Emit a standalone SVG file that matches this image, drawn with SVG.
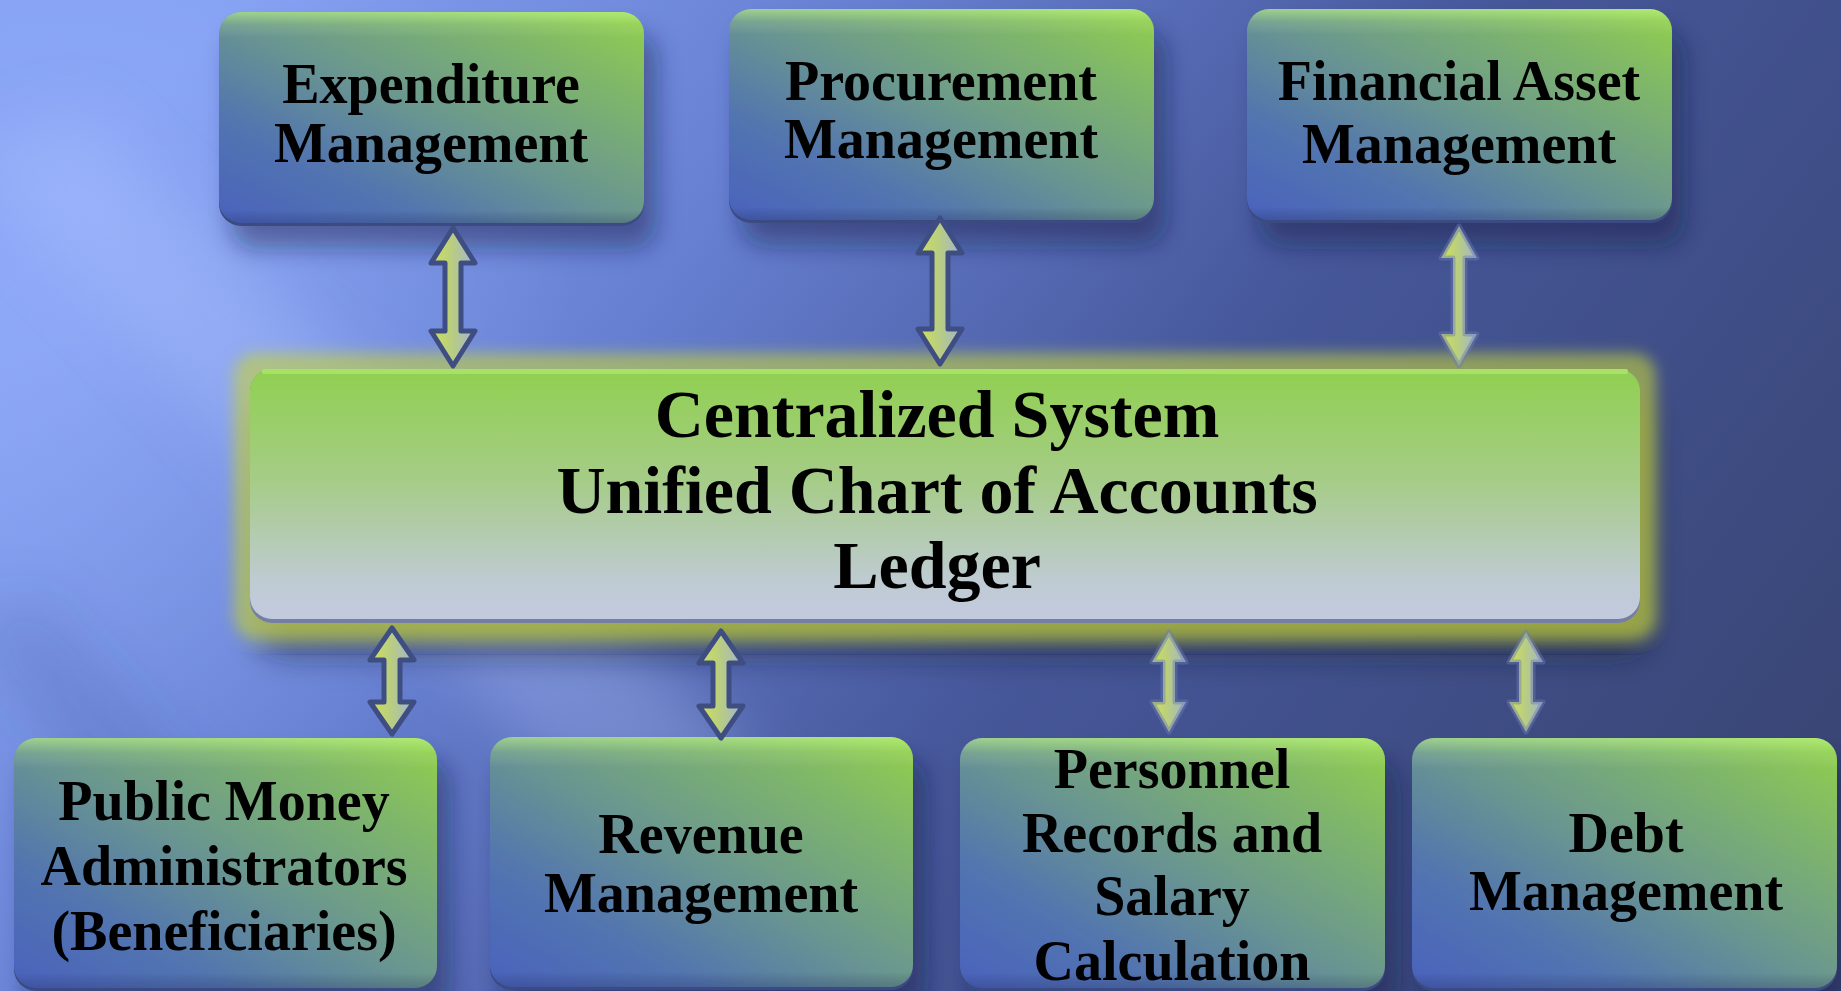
<svg xmlns="http://www.w3.org/2000/svg" width="1841" height="991" viewBox="0 0 1841 991">
  <defs>
    <linearGradient id="bgGrad" x1="0" y1="0.3" x2="1" y2="0.7">
      <stop offset="0" stop-color="#84a0f2"/>
      <stop offset="0.3" stop-color="#6780d2"/>
      <stop offset="0.6" stop-color="#46579a"/>
      <stop offset="1" stop-color="#394676"/>
    </linearGradient>
    <radialGradient id="bgGlow" cx="60" cy="330" r="520" gradientUnits="userSpaceOnUse">
      <stop offset="0" stop-color="#9ab4ff" stop-opacity="0.5"/>
      <stop offset="1" stop-color="#9ab4ff" stop-opacity="0"/>
    </radialGradient>
    <linearGradient id="boxGrad" x1="0" y1="1" x2="1" y2="0">
      <stop offset="0" stop-color="#4a62bd"/>
      <stop offset="0.25" stop-color="#5274b0"/>
      <stop offset="0.5" stop-color="#6a9690"/>
      <stop offset="0.8" stop-color="#80b868"/>
      <stop offset="1" stop-color="#92d04c"/>
    </linearGradient>
    <linearGradient id="bevelTop" x1="0" y1="0" x2="0" y2="1">
      <stop offset="0" stop-color="#c8ff90" stop-opacity="0.55"/>
      <stop offset="0.06" stop-color="#c8ff90" stop-opacity="0.15"/>
      <stop offset="0.12" stop-color="#ffffff" stop-opacity="0"/>
      <stop offset="0.94" stop-color="#000000" stop-opacity="0"/>
      <stop offset="1" stop-color="#101840" stop-opacity="0.2"/>
    </linearGradient>
    <linearGradient id="centerGrad" x1="0" y1="0" x2="0" y2="1">
      <stop offset="0" stop-color="#90d050"/>
      <stop offset="0.45" stop-color="#a6cc88"/>
      <stop offset="0.85" stop-color="#bfcbd2"/>
      <stop offset="1" stop-color="#c3cadf"/>
    </linearGradient>
    <linearGradient id="arrowGrad" x1="0" y1="0" x2="1" y2="0">
      <stop offset="0" stop-color="#cfe256"/>
      <stop offset="0.5" stop-color="#b8cc84"/>
      <stop offset="1" stop-color="#a2b4d0"/>
    </linearGradient>
    <filter id="shadow" x="-20%" y="-20%" width="150%" height="160%">
      <feGaussianBlur in="SourceAlpha" stdDeviation="12"/>
      <feOffset dx="12" dy="22" result="b"/>
      <feFlood flood-color="#141c44" flood-opacity="0.45"/>
      <feComposite in2="b" operator="in" result="s"/>
      <feMerge><feMergeNode in="s"/><feMergeNode in="SourceGraphic"/></feMerge>
    </filter>
    <filter id="glow" x="-10%" y="-30%" width="120%" height="170%">
      <feGaussianBlur in="SourceAlpha" stdDeviation="16"/>
      <feOffset dx="8" dy="30" result="d"/>
      <feFlood flood-color="#1a2030" flood-opacity="0.6"/>
      <feComposite in2="d" operator="in" result="ds"/>
      <feMorphology in="SourceAlpha" operator="dilate" radius="16" result="m"/>
      <feGaussianBlur in="m" stdDeviation="7" result="mb"/>
      <feFlood flood-color="#c4d23c" flood-opacity="0.6"/>
      <feComposite in2="mb" operator="in" result="g"/>
      <feMerge><feMergeNode in="ds"/><feMergeNode in="g"/><feMergeNode in="SourceGraphic"/></feMerge>
    </filter>
    <filter id="soft" x="-50%" y="-50%" width="200%" height="200%">
      <feGaussianBlur stdDeviation="30"/>
    </filter>
  </defs>
  <style>
    .box { fill: url(#boxGrad); }
    .bevel { fill: url(#bevelTop); }
    .edge { fill: #3a4b82; }
    .lbl { font-family: "Liberation Serif", "Times New Roman", serif; font-weight: bold; font-size: 56px; fill: #000; text-anchor: middle; }
    .big { font-size: 68px; }
    .arrow { fill: url(#arrowGrad); stroke-linejoin: round; }
    .dark { stroke: #3e4e82; stroke-width: 5; }
    .faint { stroke: #6a7ab4; stroke-opacity: 0.45; stroke-width: 5; }
  </style>

  <!-- backdrop -->
  <rect width="1841" height="991" fill="url(#bgGrad)"/>
  <rect width="1841" height="991" fill="url(#bgGlow)"/>
  <g filter="url(#soft)">
    <polygon points="-40,160 80,110 760,760 620,840" fill="#b4c8ff" opacity="0.3"/>
    <polygon points="-40,620 40,600 380,990 260,1010" fill="#3c4c98" opacity="0.2"/>
  </g>

  <!-- top row -->
  <g id="expenditure" filter="url(#shadow)">
    <rect class="edge" x="219" y="15" width="425" height="211" rx="22"/>
    <rect class="box" x="219" y="12" width="425" height="211" rx="22"/>
    <rect class="bevel" x="219" y="12" width="425" height="211" rx="22"/>
    <text class="lbl" x="431" y="103">Expenditure</text>
    <text class="lbl" x="431" y="162">Management</text>
  </g>
  <g id="procurement" filter="url(#shadow)">
    <rect class="edge" x="729" y="12" width="425" height="211" rx="22"/>
    <rect class="box" x="729" y="9" width="425" height="211" rx="22"/>
    <rect class="bevel" x="729" y="9" width="425" height="211" rx="22"/>
    <text class="lbl" x="941" y="100">Procurement</text>
    <text class="lbl" x="941" y="158">Management</text>
  </g>
  <g id="financial-asset" filter="url(#shadow)">
    <rect class="edge" x="1247" y="12" width="425" height="211" rx="22"/>
    <rect class="box" x="1247" y="9" width="425" height="211" rx="22"/>
    <rect class="bevel" x="1247" y="9" width="425" height="211" rx="22"/>
    <text class="lbl" x="1459" y="100">Financial Asset</text>
    <text class="lbl" x="1459" y="163">Management</text>
  </g>

  <!-- central ledger -->
  <g id="central-system">
    <g filter="url(#glow)">
      <rect x="250" y="369" width="1390" height="254" rx="22" fill="#767ea2"/>
    </g>
    <rect x="250" y="369" width="1390" height="250" rx="22" fill="url(#centerGrad)"/>
    <rect x="262" y="369" width="1366" height="5" rx="2" fill="#a6e268"/>
    <text class="lbl big" x="937" y="437">Centralized System</text>
    <text class="lbl big" x="937" y="513">Unified Chart of Accounts</text>
    <text class="lbl big" x="937" y="588">Ledger</text>
  </g>

  <!-- bottom row -->
  <g id="public-money" filter="url(#shadow)">
    <rect class="edge" x="14" y="741" width="423" height="250" rx="22"/>
    <rect class="box" x="14" y="738" width="423" height="250" rx="22"/>
    <rect class="bevel" x="14" y="738" width="423" height="250" rx="22"/>
    <text class="lbl" x="224" y="820">Public Money</text>
    <text class="lbl" x="224" y="885">Administrators</text>
    <text class="lbl" x="224" y="950">(Beneficiaries)</text>
  </g>
  <g id="revenue" filter="url(#shadow)">
    <rect class="edge" x="490" y="740" width="423" height="250" rx="22"/>
    <rect class="box" x="490" y="737" width="423" height="250" rx="22"/>
    <rect class="bevel" x="490" y="737" width="423" height="250" rx="22"/>
    <text class="lbl" x="701" y="853">Revenue</text>
    <text class="lbl" x="701" y="912">Management</text>
  </g>
  <g id="personnel" filter="url(#shadow)">
    <rect class="edge" x="960" y="741" width="425" height="250" rx="22"/>
    <rect class="box" x="960" y="738" width="425" height="250" rx="22"/>
    <rect class="bevel" x="960" y="738" width="425" height="250" rx="22"/>
    <text class="lbl" x="1172" y="788">Personnel</text>
    <text class="lbl" x="1172" y="852">Records and</text>
    <text class="lbl" x="1172" y="915">Salary</text>
    <text class="lbl" x="1172" y="980">Calculation</text>
  </g>
  <g id="debt" filter="url(#shadow)">
    <rect class="edge" x="1412" y="741" width="425" height="250" rx="22"/>
    <rect class="box" x="1412" y="738" width="425" height="250" rx="22"/>
    <rect class="bevel" x="1412" y="738" width="425" height="250" rx="22"/>
    <text class="lbl" x="1626" y="852">Debt</text>
    <text class="lbl" x="1626" y="910">Management</text>
  </g>

  <!-- double-headed block arrows -->
  <g id="connectors">
    <path class="arrow dark" d="M453,228 L475,263 L461,263 L461,331 L475,331 L453,366 L431,331 L445,331 L445,263 L431,263 Z"/>
    <path class="arrow dark" d="M940,218 L962,253 L948,253 L948,329 L962,329 L940,364 L918,329 L932,329 L932,253 L918,253 Z"/>
    <path class="arrow faint" d="M1459,226 L1477,258 L1465,258 L1465,334 L1477,334 L1459,366 L1441,334 L1453,334 L1453,258 L1441,258 Z"/>
    <path class="arrow dark" d="M392,628 L414,660 L400,660 L400,702 L414,702 L392,734 L370,702 L384,702 L384,660 L370,660 Z"/>
    <path class="arrow dark" d="M721,631 L743,663 L729,663 L729,706 L743,706 L721,738 L699,706 L713,706 L713,663 L699,663 Z"/>
    <path class="arrow faint" d="M1169,632 L1186,662 L1175,662 L1175,702 L1186,702 L1169,732 L1152,702 L1163,702 L1163,662 L1152,662 Z"/>
    <path class="arrow faint" d="M1526,632 L1543,662 L1533,662 L1533,702 L1543,702 L1526,732 L1509,702 L1519,702 L1519,662 L1509,662 Z"/>
  </g>
</svg>
